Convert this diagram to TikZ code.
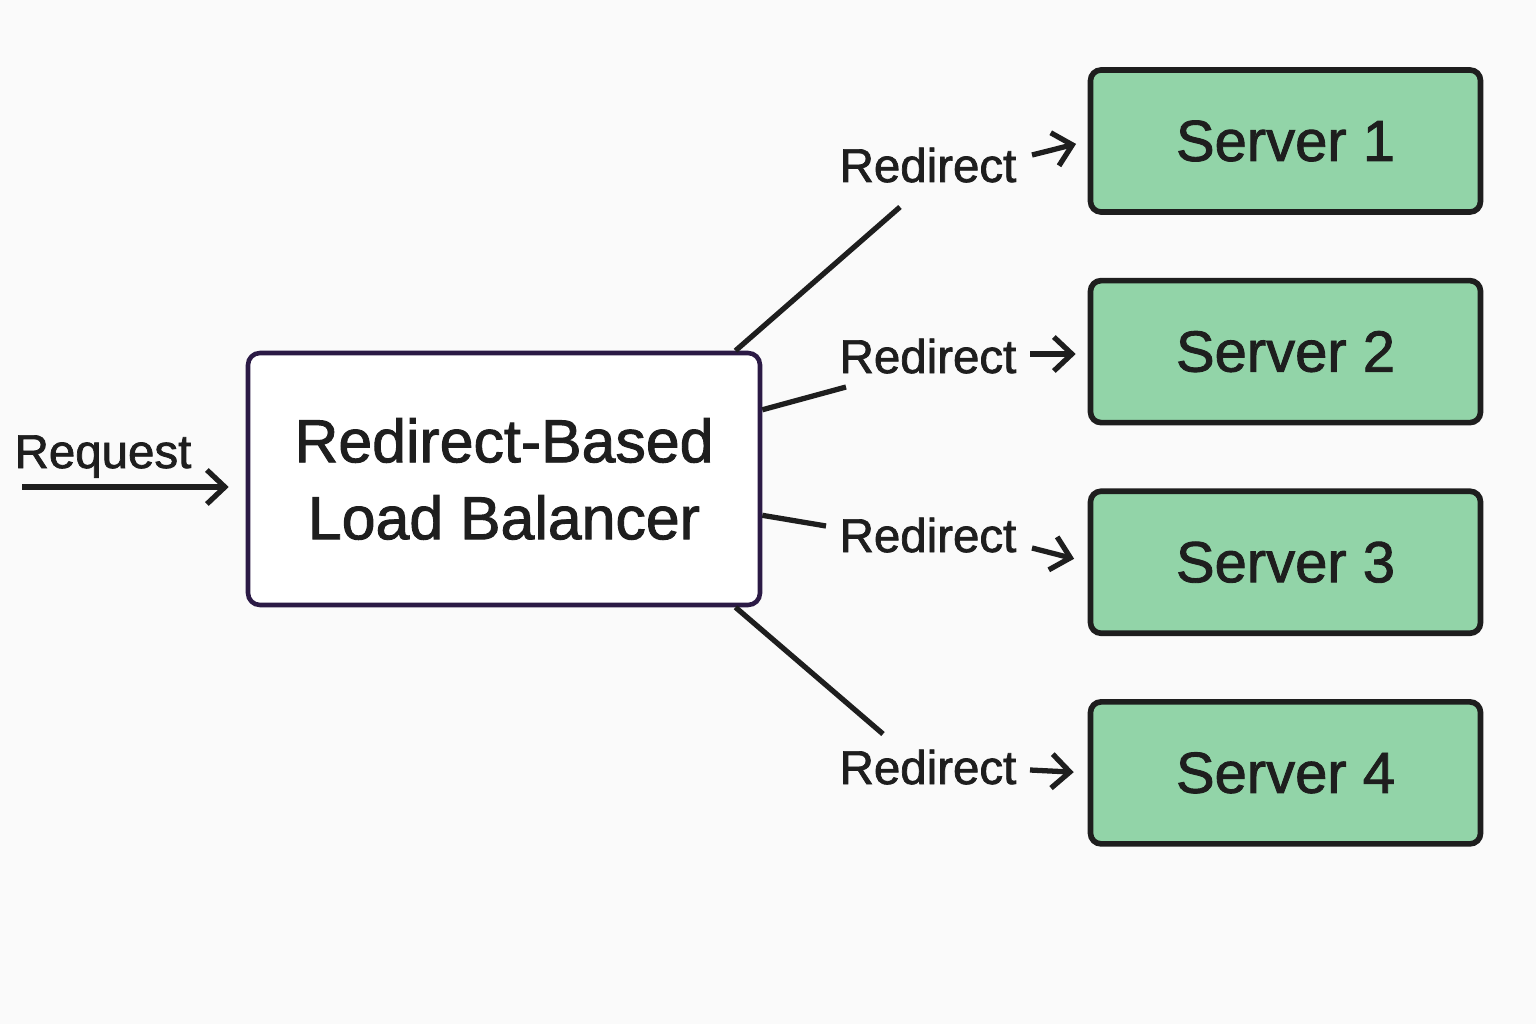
\documentclass[tikz,border=0pt]{standalone}
\usepackage{fontspec}
\setmainfont{Liberation Sans}[FakeBold=1.5, AutoFakeBold=1.5]
\usetikzlibrary{positioning}
\usetikzlibrary{arrows.meta}
\definecolor{bgcol}{HTML}{FAFAFA}
\definecolor{lbline}{HTML}{2B1A45}
\definecolor{srvfill}{HTML}{92D4A8}
\definecolor{ink}{HTML}{1E1E1E}
\tikzstyle{balancer} = [draw=lbline, line width=1.3pt, fill=white, rounded corners=3.4pt, minimum width=5.12cm, minimum height=2.52cm, align=center, text=ink, font=\fontsize{17.3}{21.9}\selectfont\bfseries]
\tikzstyle{server} = [draw=ink, line width=1.6pt, fill=srvfill, rounded corners=3pt, minimum width=3.9cm, minimum height=1.42cm, text=ink, font=\fontsize{16.5}{20}\selectfont\bfseries]
\tikzstyle{redir} = [inner sep=0pt, anchor=base, text=ink, font=\fontsize{13.5}{16}\selectfont\bfseries]
\tikzstyle{link} = [draw=ink, line width=1.5pt]
\tikzstyle{hop} = [link, -{Straight Barb[length=1.8mm, width=3.4mm]}]

\begin{document}
\begin{tikzpicture}
    \fill[bgcol] (0,0) rectangle (15.36,10.24);
    \useasboundingbox (0,0) rectangle (15.36,10.24);

    \node[balancer] (lb) at (5.04,5.45) {Redirect-Based\\Load Balancer};

    \node[server] (s1) at (12.855,8.83) {Server 1};
    \node[server, below=0.63cm of s1] (s2) {Server 2};
    \node[server, below=0.63cm of s2] (s3) {Server 3};
    \node[server, below=0.63cm of s3] (s4) {Server 4};

    \node[redir] (req) at (1.03,5.56) {Request};
    \node[redir] (r1) at (9.28,8.42) {Redirect};
    \node[redir] (r2) at (9.28,6.51) {Redirect};
    \node[redir] (r3) at (9.28,4.72) {Redirect};
    \node[redir] (r4) at (9.28,2.40) {Redirect};

    % free ends next to the labels
    \coordinate (q0) at (0.22,5.37);
    \coordinate (c1) at (9.00,8.17);
    \coordinate (c2) at (8.46,6.37);
    \coordinate (c3) at (8.26,4.98);
    \coordinate (c4) at (8.83,2.90);
    \coordinate (a1) at (10.32,8.69);
    \coordinate (a2) at (10.30,6.70);
    \coordinate (a3) at (10.32,4.76);
    \coordinate (a4) at (10.30,2.54);

    \draw[hop, shorten >=1.7mm] (q0) -- (q0 -| lb.west);

    \draw[link] (lb.29) -- (c1);
    \draw[link] (lb.15) -- (c2);
    \draw[link] (lb.-8) -- (c3);
    \draw[link] (lb.-29) -- (c4);

    \draw[hop, shorten >=1.2mm] (a1) -- (s1.west);
    \draw[hop, shorten >=1.2mm] (a2) -- (a2 -| s2.west);
    \draw[hop, shorten >=1.4mm] (a3) -- (s3.west);
    \draw[hop, shorten >=1.4mm] (a4) -- (s4.west);
\end{tikzpicture}
\end{document}
